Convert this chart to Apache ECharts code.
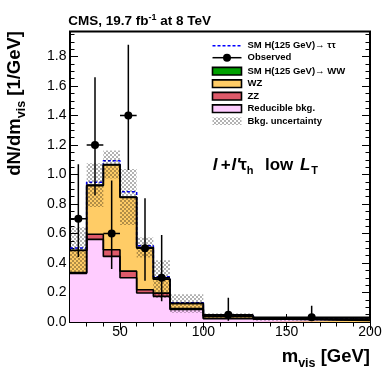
<!DOCTYPE html>
<html>
<head>
<meta charset="utf-8">
<script src="https://cdn.jsdelivr.net/npm/echarts@6/dist/echarts.min.js"></script>
<style>
html,body{margin:0;padding:0;background:#fff;}
#chart{width:390px;height:379px;}
</style>
</head>
<body>
<div id="chart"></div>
<script>
// ---- data ----
const binEdges = [20, 30, 40, 50, 60, 70, 80, 100, 130, 200];
const reducible = [0.330, 0.560, 0.445, 0.300, 0.197, 0.174, 0.085, 0.022, 0.010];
const zz        = [0.005, 0.035, 0.045, 0.045, 0.022, 0.022, 0.006, 0.003, 0.002];
const wz        = [0.150, 0.330, 0.575, 0.500, 0.284, 0.094, 0.034, 0.015, 0.008];
const hww       = [0.002, 0.003, 0.003, 0.003, 0.002, 0.001, 0.001, 0.0005, 0.0005];
const htt       = [0.015, 0.020, 0.025, 0.035, 0.012, 0.015, 0.005, 0.002, 0.001];
const bkgUnc    = [0.155, 0.148, 0.095, 0.190, 0.068, 0.128, 0.063, 0.018, 0.012];
const obsX      = [25, 35, 45, 55, 65, 75, 90, 115, 165];
const obsY      = [0.70, 1.20, 0.60, 1.40, 0.50, 0.30, null, 0.050, 0.033];
const obsLo     = [0.44, 0.86, 0.36, 1.03, 0.28, 0.14, null, 0.009, 0.006];
const obsHi     = [1.07, 1.66, 0.96, 1.88, 0.84, 0.59, null, 0.165, 0.110];
const xTickLabels = [50, 100, 150, 200];
const yTickLabels = [0.0, 0.2, 0.4, 0.6, 0.8, 1.0, 1.2, 1.4, 1.6, 1.8];

// ---- helpers ----
const FAM = '"Liberation Sans", Arial, Helvetica, sans-serif';
const nBins = reducible.length;
function cumulate(arrs) {
  return reducible.map((_, i) => arrs.reduce((s, a) => s + a[i], 0));
}
const layRed = cumulate([reducible]);
const layZZ = cumulate([reducible, zz]);
const layWZ = cumulate([reducible, zz, wz]);
const layWW = cumulate([reducible, zz, wz, hww]);
const layTT = cumulate([reducible, zz, wz, hww, htt]);
function stepData(vals) {
  const pts = vals.map((v, i) => [binEdges[i], v]);
  pts.push([binEdges[nBins], vals[nBins - 1]]);
  return pts;
}

// checker pattern for uncertainty
const pc = document.createElement('canvas');
pc.width = 4; pc.height = 4;
const pctx = pc.getContext('2d');
pctx.fillStyle = 'rgba(0,0,0,0.30)';
pctx.fillRect(0, 0, 2, 2);
pctx.fillRect(2, 2, 2, 2);
const hatch = { image: pc, repeat: 'repeat' };

const mctx = document.createElement('canvas').getContext('2d');
function fontStr(p) {
  return (p.style || 'normal') + ' ' + (p.weight || 'bold') + ' ' + p.size + 'px ' + FAM;
}
function textEl(p, x, base) {
  return {
    type: 'text', x: x, y: base + (p.dy || 0) - 0.3465 * p.size,
    style: { text: p.t, font: fontStr(p), fill: p.color || '#000', align: 'left', verticalAlign: 'middle' }
  };
}
function textRow(pieces, x, base, align) {
  const ws = pieces.map(p => { mctx.font = fontStr(p); return mctx.measureText(p.t).width; });
  const total = ws.reduce((a, b) => a + b, 0);
  let cx = align === 'right' ? x - total : (align === 'center' ? x - total / 2 : x);
  return pieces.map((p, i) => {
    const el = textEl(p, cx, base);
    cx += ws[i];
    return el;
  });
}

// minor tick positions
const xMinor = [];
for (let v = 30; v < 200; v += 10) if (v % 50 !== 0) xMinor.push(v);
const yMinor = [];
for (let k = 1; k < 40; k++) if (k % 4 !== 0) yMinor.push(k * 0.05);

function xAx(pos, vals, len, showLabel) {
  return {
    type: 'value', min: 20, max: 200, position: pos, gridIndex: 0,
    axisLine: { show: false }, splitLine: { show: false },
    axisTick: { show: true, inside: true, length: len, customValues: vals, lineStyle: { color: '#000', width: 1 } },
    axisLabel: showLabel ? { show: true, customValues: vals, color: '#000', fontSize: 14, fontFamily: FAM, margin: 3 } : { show: false }
  };
}
function yAx(pos, vals, len, showLabel) {
  return {
    type: 'value', min: 0, max: 1.97, position: pos, gridIndex: 0,
    axisLine: { show: false }, splitLine: { show: false },
    axisTick: { show: true, inside: true, length: len, customValues: vals, lineStyle: { color: '#000', width: 1 } },
    axisLabel: showLabel ? { show: true, customValues: vals, color: '#000', fontSize: 14, fontFamily: FAM, margin: 3.5,
      formatter: v => Number(v).toFixed(1) } : { show: false }
  };
}

function stackLayer(name, vals, color) {
  return {
    name: name, type: 'line', step: 'end', data: stepData(vals),
    xAxisIndex: 0, yAxisIndex: 0, showSymbol: false, symbol: 'none',
    lineStyle: { color: '#000', width: 1.6 }, areaStyle: { color: color, opacity: 1 },
    animation: false, silent: true, z: 2
  };
}

const bandData = reducible.map((_, i) => [binEdges[i], binEdges[i + 1], layWW[i], bkgUnc[i]]);
const obsData = [];
obsY.forEach((v, i) => { if (v !== null) obsData.push([obsX[i], v, obsLo[i], obsHi[i], binEdges[i], binEdges[i + 1]]); });

// legend
const LX = 212.5, LW = 29, TX = 247.5, LS = 9.5;
const rows = [45.7, 57.7, 71.2, 83.7, 96.2, 108.7, 121.2];
const legendTexts = ['SM H(125 GeV)\u2192 \u03c4\u03c4', 'Observed', 'SM H(125 GeV)\u2192 WW', 'WZ', 'ZZ', 'Reducible bkg.', 'Bkg. uncertainty'];
const legendEls = [];
legendTexts.forEach((t, i) => {
  legendEls.push(...textRow([{ t: t, size: LS }], TX, rows[i] + 3.4, 'left'));
});
legendEls.push({ type: 'line', shape: { x1: LX, y1: rows[0], x2: LX + LW, y2: rows[0] }, style: { stroke: '#0000ff', lineWidth: 1.5, lineDash: [3, 2] } });
legendEls.push({ type: 'line', shape: { x1: LX, y1: rows[1], x2: LX + LW, y2: rows[1] }, style: { stroke: '#000', lineWidth: 1.5 } });
legendEls.push({ type: 'circle', shape: { cx: LX + LW / 2, cy: rows[1], r: 4 }, style: { fill: '#000' } });
[['#00a000', 2], ['#ffcc66', 3], ['#de5a6a', 4], ['#ffccff', 5]].forEach(([c, r]) => {
  legendEls.push({ type: 'rect', shape: { x: LX, y: rows[r] - 3.8, width: LW, height: 7.6 }, style: { fill: c, stroke: '#000', lineWidth: 1.6 } });
});
legendEls.push({ type: 'rect', shape: { x: LX, y: rows[6] - 3.8, width: LW, height: 7.6 }, style: { fill: hatch } });

// channel label, pieces placed as in the reference
const CB = 171.7;
const channel = [
  textEl({ t: 'l', size: 17, style: 'italic' }, 212.7, CB),
  textEl({ t: '+', size: 17 }, 220.7, CB),
  textEl({ t: 'l\'', size: 17, style: 'italic' }, 231.5, CB),
  textEl({ t: '\u03c4', size: 17 }, 239.3, CB),
  textEl({ t: 'h', size: 11, dy: 3.5 }, 246.7, CB),
  textEl({ t: 'low', size: 17 }, 265, CB),
  textEl({ t: 'L', size: 17, style: 'italic' }, 300, CB),
  textEl({ t: 'T', size: 11, dy: 3.5 }, 311.2, CB)
];

const graphics = [].concat(
  textRow([{ t: 'CMS, 19.7 fb', size: 13.5 }, { t: '-1', size: 9, dy: -5 }, { t: ' at 8 TeV', size: 13.5 }], 68.3, 26, 'left'),
  channel,
  textRow([{ t: 'm', size: 18.5 }, { t: 'vis', size: 12.5, dy: 4.5 }, { t: ' [GeV]', size: 18.5 }], 370, 363.3, 'right'),
  [{ type: 'group', x: 0, y: 31, rotation: Math.PI / 2,
     children: textRow([{ t: 'dN/dm', size: 18.5 }, { t: 'vis', size: 12.5, dy: 4.5 }, { t: ' [1/GeV]', size: 18.5 }], 0, 21.5, 'right') }],
  legendEls
);

const chart = echarts.init(document.getElementById('chart'), null, { renderer: 'canvas' });
chart.setOption({
  animation: false,
  backgroundColor: '#fff',
  grid: { left: 70, right: 20, top: 31.5, bottom: 57, show: true, borderColor: '#000', borderWidth: 2, backgroundColor: 'transparent' },
  xAxis: [
    xAx('bottom', xTickLabels, 8, true),
    xAx('bottom', xMinor, 4.5, false),
    xAx('top', xTickLabels, 8, false),
    xAx('top', xMinor, 4.5, false)
  ],
  yAxis: [
    yAx('left', yTickLabels, 8, true),
    yAx('left', yMinor, 4.5, false),
    yAx('right', yTickLabels, 8, false),
    yAx('right', yMinor, 4.5, false)
  ],
  graphic: graphics,
  series: [
    {
      name: 'SM H(125 GeV) tautau', type: 'line', step: 'end', data: stepData(layTT),
      xAxisIndex: 0, yAxisIndex: 0, showSymbol: false, symbol: 'none',
      lineStyle: { color: '#0000ff', width: 1.6, type: [3, 2] }, animation: false, silent: true, z: 2
    },
    stackLayer('SM H(125 GeV) WW', layWW, '#00a000'),
    stackLayer('WZ', layWZ, '#ffcc66'),
    stackLayer('ZZ', layZZ, '#de5a6a'),
    stackLayer('Reducible bkg.', layRed, '#ffccff'),
    {
      name: 'Bkg. uncertainty', type: 'custom', data: bandData, xAxisIndex: 0, yAxisIndex: 0, z: 3, clip: true,
      renderItem: function (params, api) {
        const p1 = api.coord([api.value(0), api.value(2) + api.value(3)]);
        const p2 = api.coord([api.value(1), api.value(2) - api.value(3)]);
        return { type: 'rect', shape: { x: p1[0], y: p1[1], width: p2[0] - p1[0], height: p2[1] - p1[1] }, style: { fill: hatch } };
      }
    },
    {
      name: 'Observed', type: 'custom', data: obsData, xAxisIndex: 0, yAxisIndex: 0, z: 4, clip: true,
      renderItem: function (params, api) {
        const c = api.coord([api.value(0), api.value(1)]);
        const lo = api.coord([api.value(0), api.value(2)]);
        const hi = api.coord([api.value(0), api.value(3)]);
        const l = api.coord([api.value(4), api.value(1)]);
        const r = api.coord([api.value(5), api.value(1)]);
        return {
          type: 'group', children: [
            { type: 'line', shape: { x1: lo[0], y1: lo[1], x2: hi[0], y2: hi[1] }, style: { stroke: '#000', lineWidth: 1.5 } },
            { type: 'line', shape: { x1: l[0], y1: l[1], x2: r[0], y2: r[1] }, style: { stroke: '#000', lineWidth: 1.5 } },
            { type: 'circle', shape: { cx: c[0], cy: c[1], r: 4 }, style: { fill: '#000' } }
          ]
        };
      }
    }
  ]
});
</script>
</body>
</html>
